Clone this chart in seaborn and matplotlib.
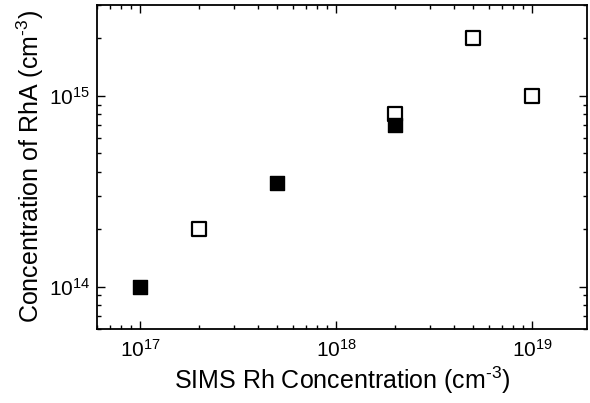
import matplotlib
matplotlib.use("Agg")
import matplotlib.pyplot as plt
import seaborn as sns
import pandas as pd
from matplotlib.ticker import LogLocator, NullFormatter

sns.set_style("ticks")
plt.rcParams['font.family'] = ['Liberation Sans', 'DejaVu Sans']
plt.rcParams['mathtext.fontset'] = 'custom'
plt.rcParams['mathtext.rm'] = 'Liberation Sans'
plt.rcParams['mathtext.it'] = 'Liberation Sans'
plt.rcParams['text.color'] = 'black'
plt.rcParams['axes.labelcolor'] = 'black'

# data
open_x = [2e17, 2e18, 5e18, 1e19]
open_y = [2e14, 8e14, 2e15, 1e15]
filled_x = [1e17, 5e17, 2e18]
filled_y = [1e14, 3.5e14, 7e14]

df_open = pd.DataFrame({"x": open_x, "y": open_y})
df_filled = pd.DataFrame({"x": filled_x, "y": filled_y})

fig = plt.figure(figsize=(5.90, 4.03), dpi=100)
ax = fig.add_axes([0.164, 0.184, 0.831, 0.804])

sns.scatterplot(data=df_open, x="x", y="y", ax=ax, marker="s", s=90,
                facecolor="white", edgecolor="black", linewidth=1.6, zorder=3)
sns.scatterplot(data=df_filled, x="x", y="y", ax=ax, marker="s", s=90,
                color="black", edgecolor="black", linewidth=1.0, zorder=4)

ax.set_xscale("log")
ax.set_yscale("log")
ax.set_xlim(6e16, 1.9e19)
ax.set_ylim(6e13, 3e15)

for a in (ax.xaxis, ax.yaxis):
    a.set_major_locator(LogLocator(base=10, numticks=10))
    a.set_minor_locator(LogLocator(base=10, subs=range(2, 10), numticks=10))
    a.set_minor_formatter(NullFormatter())

ax.tick_params(which="both", direction="in", top=True, right=True, width=1.0,
               labelsize=15, colors="black")
ax.tick_params(axis="x", which="major", length=6, pad=7)
ax.tick_params(axis="y", which="major", length=6, pad=5)
ax.tick_params(which="minor", length=3)

for s in ax.spines.values():
    s.set_linewidth(1.3)
    s.set_color("black")

ax.set_xlabel(r"SIMS Rh Concentration (cm$^{\text{-3}}$)", fontsize=18, labelpad=3)
ax.set_ylabel(r"Concentration of RhA (cm$^{\text{-3}}$)", fontsize=18, labelpad=2)

fig.savefig("out.png", dpi=100)
